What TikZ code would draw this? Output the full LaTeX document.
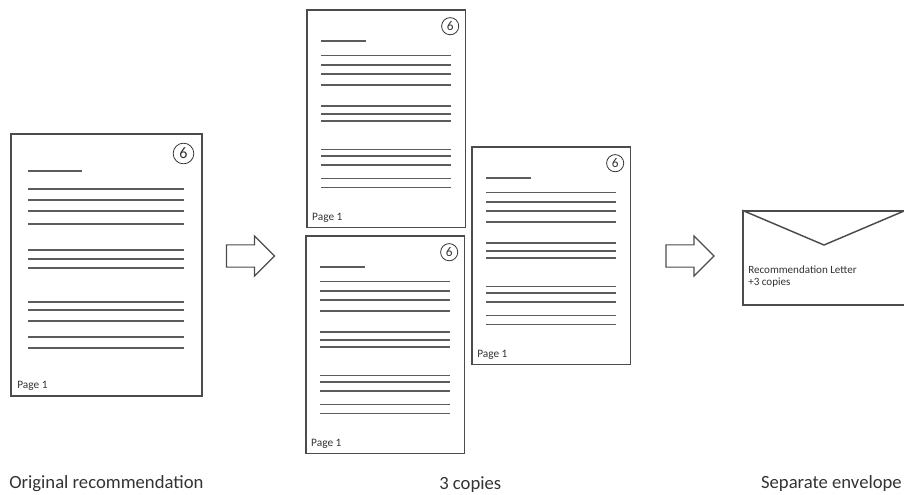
\documentclass[tikz,border=0pt]{standalone}
\usepackage{fontspec}
\setmainfont{Carlito}
\usepackage{tikz}
\usetikzlibrary{shapes,shapes.arrows,positioning}
\definecolor{frameGrayLtr}{rgb}{0.3,0.3,0.3}
\definecolor{lineGrayLtr}{rgb}{0.36,0.36,0.36}
\definecolor{textGrayLtr}{rgb}{0.2,0.2,0.2}
\tikzset{
	pageframe/.style={draw=frameGrayLtr, line width=1.1pt, fill=white},
	textline/.style={draw=lineGrayLtr},
	pagemark/.style={circle, draw=textGrayLtr, line width=0.6pt, inner sep=0pt, minimum size=15.5pt, font=\fontsize{12}{12}\selectfont, text=textGrayLtr},
	pagefoot/.style={anchor=base west, inner sep=0pt, font=\fontsize{8.5}{10}\selectfont, text=textGrayLtr},
	blockarrow/.style={single arrow, draw=frameGrayLtr, line width=0.9pt, minimum height=36pt, inner xsep=0pt, inner ysep=7.9pt, single arrow head extend=6.75pt},
	envtext/.style={anchor=base west, inner sep=0pt, font=\fontsize{8.3}{9}\selectfont, text=textGrayLtr},
	caption/.style={anchor=base west, inner sep=0pt, font=\fontsize{14}{16}\selectfont, text=textGrayLtr}
}
% one letter page: name, left, top, scale
\newcommand{\LetterPage}[4]{
	\begin{scope}[shift={(#2,#3)}, scale=#4]
		\draw[pageframe] (0,0) rectangle (191,262);
		\coordinate (#1) at (95.5,131);
		\draw[textline, line width=#4*1.5pt] (17,37) -- (71,37);
		\foreach \ly in {55,66,77,90,116,125,134,168,176,187,203,214}
			\draw[textline, line width=#4*1.5pt] (17,\ly) -- (173,\ly);
		\node[pagemark, transform shape] (#1-mark) at (172.5,19.5) {6};
		\node[pagefoot] (#1-foot) at (6,254) {Page 1};
	\end{scope}
}
\begin{document}
\begin{tikzpicture}[x=0.75pt, y=-0.75pt]
	\useasboundingbox (0,0) rectangle (904,494);

	% pages
	\LetterPage{orig}{11}{134}{1}
	\LetterPage{copyA}{307}{10}{0.83}
	\LetterPage{copyB}{306}{236}{0.83}
	\LetterPage{copyC}{472}{147}{0.83}

	% arrows
	\node[blockarrow] (arrowA) at (245,256) {};
	\node[blockarrow] (arrowB) at (684.5,256) {};

	% envelope
	\node[pageframe, rectangle, minimum width=121.5pt, minimum height=70.5pt, inner sep=0pt] (env) at (824,258) {};
	\coordinate (envflap) at (824,245);
	\draw[pageframe, fill=none] (env.north west) -- (envflap) -- (env.north east);
	\node[envtext] (envTitle) at (748,273) {Recommendation Letter};
	\node[envtext] (envCount) at (748,285) {+3 copies};

	% captions
	\node[caption] (capOrig) at (9,488) {Original recommendation};
	\node[caption] (capCopies) at (439,489) {3 copies};
	\node[caption, anchor=base east] (capEnv) at (902,488) {Separate envelope};
\end{tikzpicture}
\end{document}
